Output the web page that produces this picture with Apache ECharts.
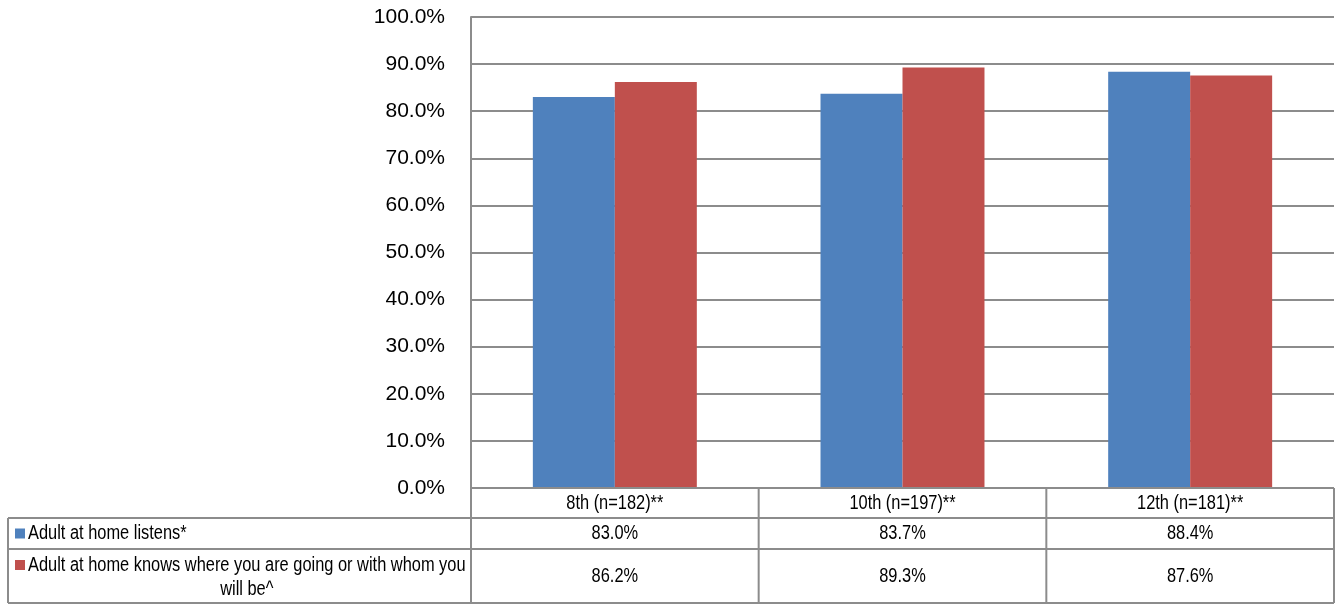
<!DOCTYPE html>
<html>
<head>
<meta charset="utf-8">
<script src="https://cdn.jsdelivr.net/npm/echarts@6/dist/echarts.min.js"></script>
<style>html,body{margin:0;padding:0;background:#fff}#c{width:1335px;height:605px}</style>
</head>
<body>
<div id="c"></div>
<script>
var categories = ['8th (n=182)**', '10th (n=197)**', '12th (n=181)**'];
var seriesNames = ['Adult at home listens*', 'Adult at home knows where you are going or with whom you will be^'];
var listens = [83.0, 83.7, 88.4];
var knows = [86.2, 89.3, 87.6];
var yTicks = [0, 10, 20, 30, 40, 50, 60, 70, 80, 90, 100];

var tFont = '"Liberation Sans", Arial, sans-serif';
var tSize = 20;
var tScaleX = 0.82; // emulate a narrow face

var colors = ['#4F81BD', '#C0504D'];
var lineColor = '#8C8C8C';

var chart = echarts.init(document.getElementById('c'), null, {renderer: 'canvas'});
var option = {
  animation: false,
  grid: {left: 471, right: 1, top: 17, bottom: 117, containLabel: false},
  xAxis: {
    type: 'category', data: categories,
    axisLine: {show: false}, axisTick: {show: false}, axisLabel: {show: false}
  },
  yAxis: {
    type: 'value', min: yTicks[0], max: yTicks[yTicks.length - 1], interval: 10,
    axisLine: {show: true, lineStyle: {color: lineColor, width: 2}},
    axisTick: {show: false},
    splitLine: {lineStyle: {color: lineColor, width: 2}},
    axisLabel: {formatter: function (v) { return v.toFixed(1) + '%'; }, fontFamily: '"Liberation Sans", Arial, sans-serif', fontSize: 21, color: '#000', margin: 26, padding: [7, 0, 0, 0]}
  },
  series: [
    {name: seriesNames[0], type: 'bar', data: listens, barWidth: '28.5%', barGap: '0%', itemStyle: {color: colors[0]}},
    {name: seriesNames[1], type: 'bar', data: knows, barWidth: '28.5%', barGap: '0%', itemStyle: {color: colors[1]}}
  ]
};
chart.setOption(option);

var measureCtx = document.createElement('canvas').getContext('2d');
function textWidth(t) {
  measureCtx.font = tSize + 'px ' + tFont;
  return measureCtx.measureText(t).width * tScaleX;
}

// build data table with graphics using axis scale
var x0 = chart.convertToPixel({xAxisIndex: 0}, 0);
var x1 = chart.convertToPixel({xAxisIndex: 0}, 1);
var bw = x1 - x0;
var plotLeft = x0 - bw / 2;
var plotRight = plotLeft + bw * categories.length;
var yBase = chart.convertToPixel({yAxisIndex: 0}, 0);
var tableLeft = 8;
var rowH = [30, 31, 54];
var rows = [yBase, yBase + rowH[0], yBase + rowH[0] + rowH[1], yBase + rowH[0] + rowH[1] + rowH[2]];
var els = [];
function line(xa, ya, xb, yb) {
  els.push({type: 'line', shape: {x1: xa, y1: ya, x2: xb, y2: yb}, style: {stroke: lineColor, lineWidth: 2}, z: 100});
}
function text(t, x, y, align) {
  els.push({type: 'text', x: x, y: y, scaleX: tScaleX, style: {text: t, font: tSize + 'px ' + tFont, fill: '#000', align: align || 'center', verticalAlign: 'middle'}, z: 100});
}
// horizontal lines
line(plotLeft, rows[0], plotRight, rows[0]);
line(tableLeft, rows[1], plotRight, rows[1]);
line(tableLeft, rows[2], plotRight, rows[2]);
line(tableLeft, rows[3], plotRight, rows[3]);
// vertical lines
line(plotLeft, rows[0], plotLeft, rows[3]);
line(tableLeft, rows[1], tableLeft, rows[3]);
for (var i = 1; i <= categories.length; i++) {
  line(plotLeft + bw * i, rows[0], plotLeft + bw * i, rows[3]);
}
var vals = [listens, knows];
for (var i = 0; i < categories.length; i++) {
  var cx = chart.convertToPixel({xAxisIndex: 0}, i);
  text(categories[i], cx, (rows[0] + rows[1]) / 2);
  text(vals[0][i].toFixed(1) + '%', cx, (rows[1] + rows[2]) / 2);
  text(vals[1][i].toFixed(1) + '%', cx, (rows[2] + rows[3]) / 2);
}
// legend keys + labels
var keyX = 15, keyS = 10, labX = 28;
var r1y = (rows[1] + rows[2]) / 2;
els.push({type: 'rect', shape: {x: keyX, y: r1y - keyS / 2, width: keyS, height: keyS}, style: {fill: colors[0]}, z: 100});
text(seriesNames[0], labX, r1y, 'left');
var r2y = rows[2] + 16;
els.push({type: 'rect', shape: {x: keyX, y: r2y - keyS / 2, width: keyS, height: keyS}, style: {fill: colors[1]}, z: 100});
var parts = seriesNames[1].split(' ');
var firstLine = parts.slice(0, parts.length - 2).join(' ');
var secondLine = parts.slice(parts.length - 2).join(' ');
text(firstLine, labX, r2y, 'left');
text(secondLine, labX + textWidth(firstLine) / 2, r2y + 24, 'center');
chart.setOption({graphic: {elements: els}});
</script>
</body>
</html>
